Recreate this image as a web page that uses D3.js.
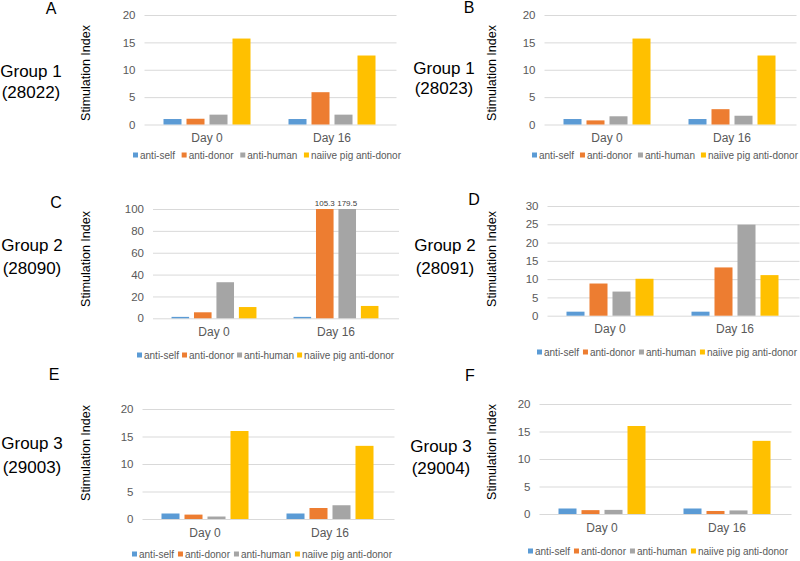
<!DOCTYPE html>
<html>
<head>
<meta charset="utf-8">
<script src="https://cdn.jsdelivr.net/npm/d3@7"></script>
<style>
  html, body { margin: 0; padding: 0; background: #fff; }
  svg { display: block; font-family: "Liberation Sans", Arial, sans-serif; }
</style>
</head>
<body>
<svg id="chart" width="800" height="561"></svg>
<script>
// ---------- data ----------
const categories = ["Day 0", "Day 16"];
const seriesNames = ["anti-self", "anti-donor", "anti-human", "naiive pig anti-donor"];
const panelLetters = ["A", "B", "C", "D", "E", "F"];
const groupNames = ["Group 1", "Group 1", "Group 2", "Group 2", "Group 3", "Group 3"];
const animalIds = ["(28022)", "(28023)", "(28090)", "(28091)", "(29003)", "(29004)"];
const yAxisTitle = "Stimulation Index";

// values[category][series]
const valuesA = [[1.0, 1.05, 1.8, 15.7], [1.0, 5.9, 1.8, 12.6]];
const valuesB = [[1.0, 0.75, 1.5, 15.7], [1.0, 2.8, 1.6, 12.6]];
const valuesC = [[1.3, 5.5, 33.0, 10.3], [1.3, 105.3, 179.5, 11.3]];
const valuesD = [[1.1, 8.8, 6.6, 10.1], [1.1, 13.2, 24.9, 11.1]];
const valuesE = [[1.0, 0.8, 0.45, 16.0], [1.0, 2.0, 2.5, 13.3]];
const valuesF = [[1.0, 0.7, 0.75, 16.0], [1.0, 0.55, 0.65, 13.3]];

const ticks20 = [0, 5, 10, 15, 20];
const ticks100 = [0, 20, 40, 60, 80, 100];
const ticks30 = [0, 5, 10, 15, 20, 25, 30];

const panelValues = [valuesA, valuesB, valuesC, valuesD, valuesE, valuesF];
const panelTicks = [ticks20, ticks20, ticks100, ticks30, ticks20, ticks20];
const labelOverflow = [false, false, true, false, false, false];

// ---------- layout / style ----------
const colors = ["#5B9BD5", "#ED7D31", "#A5A5A5", "#FFC000"];
const layout = [
  { x0: 144.5, x1: 394.5, yZero: 124.5, yTop: 15,  letter: [51, 8],    group: [31, 71, 92],   title: [87, 73],   legend: [133, 155, 268] },
  { x0: 544.5, x1: 794.5, yZero: 124.5, yTop: 15,  letter: [469, 7],   group: [444, 68, 88],  title: [493, 73],  legend: [532, 155, 266] },
  { x0: 153,   x1: 397,   yZero: 318.3, yTop: 209, letter: [56, 202],  group: [32, 245, 268], title: [87, 259],  legend: [137, 355, 252] },
  { x0: 547.5, x1: 797.5, yZero: 315.7, yTop: 206, letter: [474, 199], group: [445, 245, 268],title: [493, 259], legend: [537, 352, 260] },
  { x0: 142.5, x1: 392.5, yZero: 519,   yTop: 409, letter: [54, 374],  group: [32, 443, 467], title: [87, 453],  legend: [132, 554, 260] },
  { x0: 539.5, x1: 789.5, yZero: 514,   yTop: 404, letter: [470, 375], group: [441, 446, 468],title: [493, 452], legend: [528, 551, 260] }
];

const svg = d3.select("#chart");

panelValues.forEach((vals, p) => {
  const L = layout[p];
  const ticks = panelTicks[p];
  const g = svg.append("g");

  const x = d3.scaleBand().domain(categories).range([L.x0, L.x1]).padding(0);
  const xi = d3.scaleBand().domain(seriesNames).range([0, x.bandwidth()])
    .paddingInner(0.217).paddingOuter(0.826);
  const y = d3.scaleLinear().domain([0, d3.max(ticks)]).range([L.yZero, L.yTop]).clamp(true);

  // gridlines + tick labels
  const yAxis = g.append("g")
    .attr("transform", `translate(${L.x0},0)`)
    .call(d3.axisLeft(y).tickValues(ticks).tickSize(-(L.x1 - L.x0 + 2)).tickPadding(9).tickFormat(d3.format("d")));
  yAxis.select(".domain").remove();
  yAxis.selectAll(".tick line").attr("stroke", "#D9D9D9").attr("stroke-width", 1);
  yAxis.selectAll(".tick text").attr("fill", "#595959").style("font-size", "11.5px")
    .style("font-family", "'Liberation Sans', Arial, sans-serif");

  // bars
  const cat = g.selectAll("g.cat").data(categories).enter().append("g")
    .attr("transform", d => `translate(${x(d)},0)`);
  cat.selectAll("rect").data((c, ci) => vals[ci].map((v, si) => ({ v, s: seriesNames[si], si })))
    .enter().append("rect")
    .attr("x", d => xi(d.s))
    .attr("width", xi.bandwidth())
    .attr("y", d => y(d.v))
    .attr("height", d => y(0) - y(d.v))
    .attr("fill", d => colors[d.si]);

  // overflow value labels
  if (labelOverflow[p]) {
    cat.selectAll("text.ov").data((c, ci) => vals[ci].map((v, si) => ({ v, s: seriesNames[si] })).filter(d => d.v > d3.max(ticks)))
      .enter().append("text")
      .attr("x", d => xi(d.s) + xi.bandwidth() / 2)
      .attr("y", d => y(d.v) - 3)
      .attr("text-anchor", "middle")
      .attr("fill", "#404040")
      .style("font-size", "8px")
      .text(d => d3.format(".1f")(d.v));
  }

  // category axis
  const xAxis = g.append("g")
    .attr("transform", `translate(0,${L.yZero})`)
    .call(d3.axisBottom(x).tickSize(0).tickPadding(9));
  xAxis.select(".domain").remove();
  xAxis.selectAll(".tick text").attr("fill", "#595959").style("font-size", "12px")
    .style("font-family", "'Liberation Sans', Arial, sans-serif");

  // y axis title
  g.append("text")
    .attr("transform", `translate(${L.title[0]},${L.title[1]}) rotate(-90)`)
    .attr("text-anchor", "middle").attr("dominant-baseline", "middle")
    .attr("fill", "#000").style("font-size", "12.5px")
    .text(yAxisTitle);

  // panel letter
  g.append("text")
    .attr("x", L.letter[0]).attr("y", L.letter[1])
    .attr("text-anchor", "middle").attr("dominant-baseline", "central")
    .attr("fill", "#000").style("font-size", "16px")
    .text(panelLetters[p]);

  // group label
  g.append("text")
    .attr("x", L.group[0]).attr("y", L.group[1])
    .attr("text-anchor", "middle").attr("dominant-baseline", "central")
    .attr("fill", "#000").style("font-size", "17px")
    .text(groupNames[p]);
  g.append("text")
    .attr("x", L.group[0]).attr("y", L.group[2])
    .attr("text-anchor", "middle").attr("dominant-baseline", "central")
    .attr("fill", "#000").style("font-size", "17px")
    .text(animalIds[p]);

  // legend
  const lg = g.append("g");
  const items = seriesNames.map((name, si) => {
    const it = lg.append("g");
    it.append("rect").attr("width", 5).attr("height", 5).attr("y", -2.5).attr("fill", colors[si]);
    const t = it.append("text").attr("x", 7).attr("dominant-baseline", "central")
      .attr("fill", "#595959").style("font-size", "10px").text(name);
    return { it, w: 7 + t.node().getComputedTextLength() };
  });
  const totalW = d3.sum(items, d => d.w);
  const gap = Math.max(3, (L.legend[2] - totalW) / 3);
  let cx = L.legend[0];
  items.forEach(d => {
    d.it.attr("transform", `translate(${cx},${L.legend[1]})`);
    cx += d.w + gap;
  });
});
</script>
</body>
</html>
